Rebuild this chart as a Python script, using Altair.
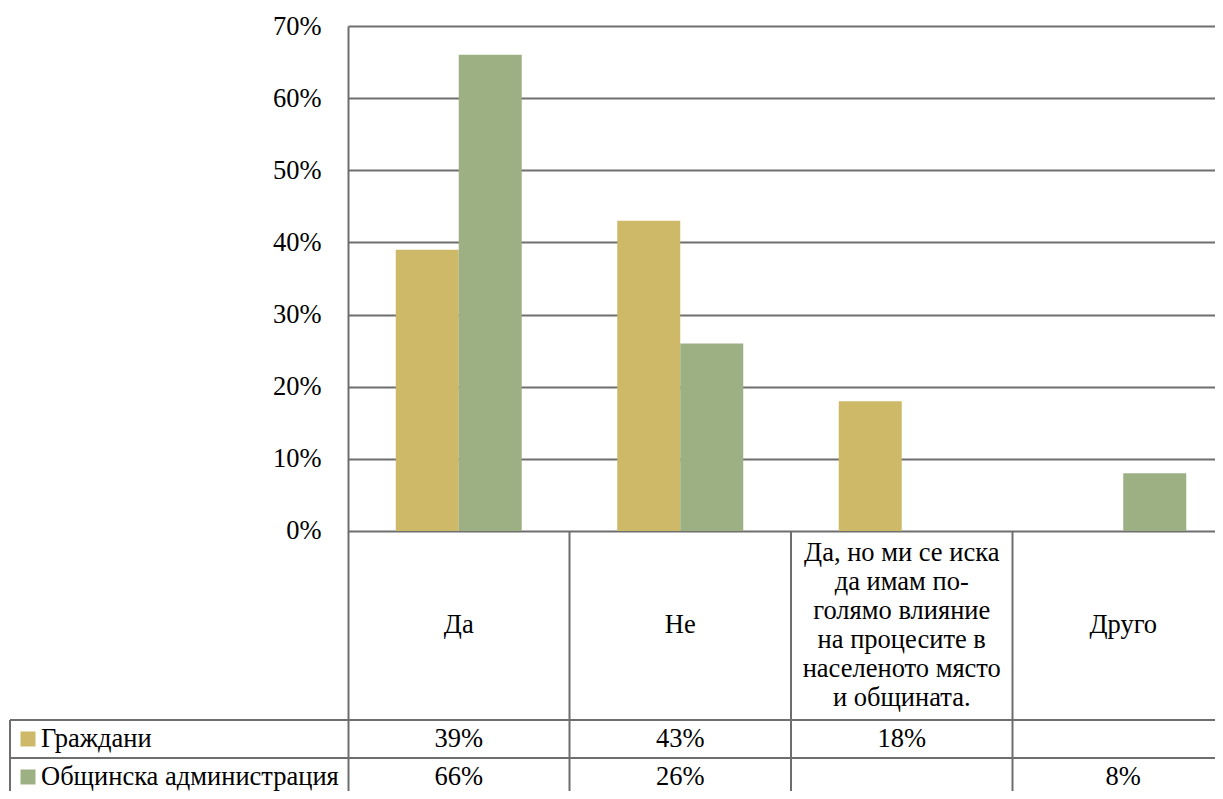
import altair as alt
import pandas as pd

# ---- data ----
categories = [
    "Да",
    "Не",
    "Да, но ми се иска\nда имам по-\nголямо влияние\nна процесите в\nнаселеното място\nи общината.",
    "Друго",
]
series = ["Граждани", "Общинска администрация"]
grazhdani = [39, 43, 18, None]
obshtinska = [66, 26, None, 8]
y_ticks = [0, 10, 20, 30, 40, 50, 60, 70]
colors = ["#CDB967", "#9CB083"]

# ---- layout constants (pixels) ----
Y_PX_PER_10 = 72.14          # pixels for 10 %
CAT_PX = 221.5               # pixels per category column
PAD_LEFT = 340               # room for table label column and y labels
PAD_TOP = 18
PLOT_W = 1207 - PAD_LEFT     # visible plot width (chart is clipped on the right)
PLOT_H = 783 - PAD_TOP       # visible plot height (chart is clipped at the bottom)
PX = Y_PX_PER_10 / 10        # pixels per y unit
Y_MAX = 70
Y_MIN = Y_MAX - PLOT_H / PX
X_MAX = PLOT_W / CAT_PX
BAR_W = 63 / CAT_PX
HEADER_H = 189 / PX
ROW_H = 38 / PX
LABEL_COL = 338 / CAT_PX
LINE_H = 29
FONT = "Liberation Serif"
FS = 26.5
GRID = "#6e6e6e"
n = len(categories)

values = [grazhdani, obshtinska]

# bars
bar_rows = []
for s, name in enumerate(series):
    for i, v in enumerate(values[s]):
        if v is None:
            continue
        x0 = i + 0.5 + (s - 1) * BAR_W
        bar_rows.append({"series": name, "x": x0, "x2": x0 + BAR_W, "v": v, "zero": 0})
bars_df = pd.DataFrame(bar_rows)

# table rules
row_tops = [-HEADER_H, -HEADER_H - ROW_H, -HEADER_H - 2 * ROW_H]
rule_rows = []
for y in row_tops:
    rule_rows.append({"x": -LABEL_COL, "x2": n, "y": y, "y2": y})
rule_rows.append({"x": -LABEL_COL, "x2": -LABEL_COL, "y": row_tops[0], "y2": row_tops[-1]})
for i in range(1, n + 1):
    rule_rows.append({"x": i, "x2": i, "y": 0, "y2": row_tops[-1]})
rules_df = pd.DataFrame(rule_rows)

# header labels (multi-line, centred vertically in the header cell)
header_lines = [c.split("\n") for c in categories]
header_df = pd.DataFrame({
    "x": [i + 0.5 for i in range(n)],
    "y": [-HEADER_H / 2 + (len(l) - 1) * LINE_H / 2 / PX for l in header_lines],
    "label": header_lines,
})

# value cells
cell_rows = []
for s, name in enumerate(series):
    yc = -HEADER_H - ROW_H * (s + 0.5)
    for i, v in enumerate(values[s]):
        if v is None:
            continue
        cell_rows.append({"x": i + 0.5, "y": yc, "t": f"{v}%"})
cells_df = pd.DataFrame(cell_rows)

# legend keys in table
key_df = pd.DataFrame({
    "series": series,
    "xs": [-LABEL_COL + 18 / CAT_PX] * 2,
    "xt": [-LABEL_COL + 31 / CAT_PX] * 2,
    "y": [-HEADER_H - ROW_H * (s + 0.5) for s in range(2)],
})

xscale = alt.Scale(domain=[0, X_MAX], nice=False, zero=False)
yscale = alt.Scale(domain=[Y_MIN, Y_MAX], nice=False, zero=False)
yaxis = alt.Axis(
    values=y_ticks, labelExpr="datum.value + '%'", grid=True, gridColor=GRID,
    gridWidth=2, domainColor=GRID, domainWidth=2, ticks=False,
    labelFont=FONT, labelFontSize=FS, labelColor="black", labelPadding=27,
    title=None,
)
color = alt.Color("series:N", scale=alt.Scale(domain=series, range=colors), legend=None)


def X(f):
    return alt.X(f, type="quantitative", scale=xscale, axis=None, title=None)


def Y(f):
    return alt.Y(f, type="quantitative", scale=yscale, axis=yaxis, title=None)


bars = alt.Chart(bars_df).mark_rect().encode(
    x=X("x"), x2="x2", y=Y("v"), y2="zero", color=color
)

rules = alt.Chart(rules_df).mark_rule(color=GRID, strokeWidth=2).encode(
    x=X("x"), x2="x2", y=Y("y"), y2="y2"
)

header = alt.Chart(header_df).mark_text(
    font=FONT, fontSize=FS, lineHeight=LINE_H, align="center", baseline="middle", color="black"
).encode(x=X("x"), y=Y("y"), text="label")

cells = alt.Chart(cells_df).mark_text(
    font=FONT, fontSize=FS, align="center", baseline="middle", color="black"
).encode(x=X("x"), y=Y("y"), text="t:N")

keys = alt.Chart(key_df).mark_square(size=225, opacity=1).encode(
    x=X("xs"), y=Y("y"), color=color
)
key_text = alt.Chart(key_df).mark_text(
    font=FONT, fontSize=FS, align="left", baseline="middle", color="black"
).encode(x=X("xt"), y=Y("y"), text="series:N")

chart = alt.layer(bars, rules, header, cells, keys, key_text).properties(
    width=PLOT_W, height=PLOT_H,
    autosize=alt.AutoSizeParams(type="none"),
    padding={"left": PAD_LEFT, "top": PAD_TOP, "right": 0, "bottom": 0},
).configure_view(stroke=None).configure(background="white")

chart.save("out.html", embed_options={"renderer": "svg", "actions": False})
